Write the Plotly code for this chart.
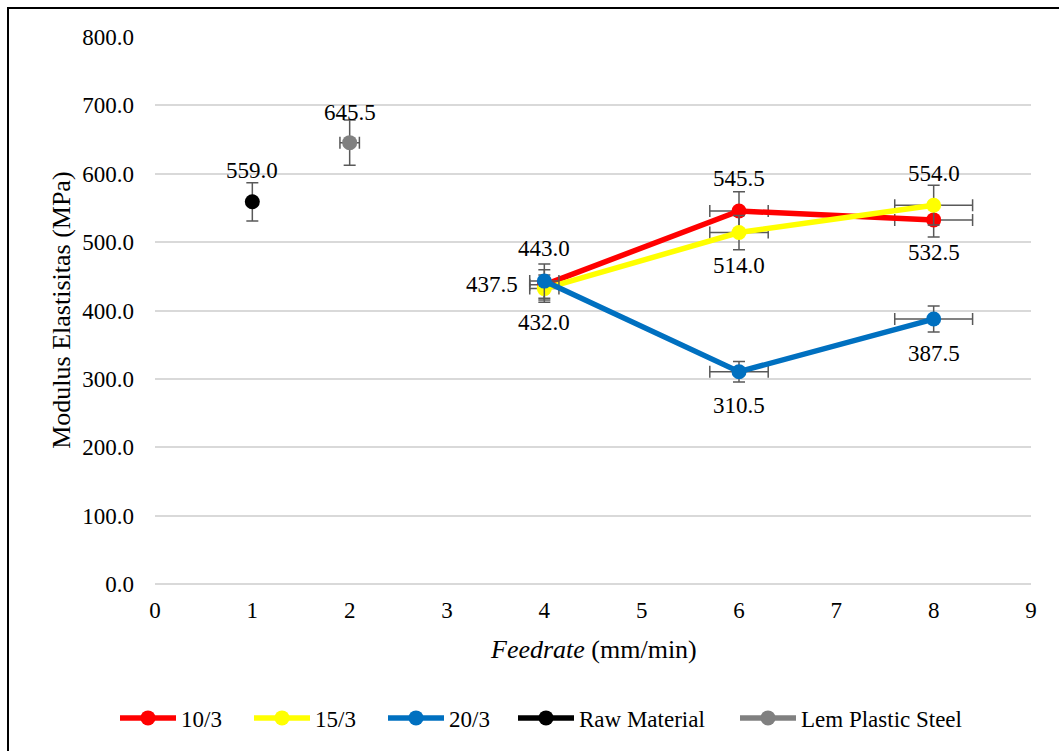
import plotly.graph_objects as go

# Feedrate values (mm/min) and modulus values (MPa) per series
feed_main = [4, 6, 8]
mod_10_3 = [437.5, 545.5, 532.5]
mod_15_3 = [432.0, 514.0, 554.0]
mod_20_3 = [443.0, 310.5, 387.5]
err_y_10_3 = [22, 28, 25]
err_y_15_3 = [20, 25, 29]
err_y_20_3 = [25, 15, 19]
err_x_main = [0.15, 0.3, 0.4]

feed_raw = [1]
mod_raw = [559.0]
err_y_raw = [28]

feed_lem = [2]
mod_lem = [645.5]
err_y_lem = [33]
err_x_lem = [0.1]

# Label offsets in pixels (x shift, y shift) per point
label_shift_10_3 = [(-24, 0), (0, -33), (0, 33)]
label_shift_15_3 = [(0, 34), (0, 33), (0, -32)]
label_shift_20_3 = [(0, -33), (0, 34), (0, 34)]

FONT = "Liberation Serif"
ERR_COLOR = "#595959"
TXT = 23
TITLE = 26

fig = go.Figure()


def add_series(name, xs, ys, color, ey, ex=None, legend="legend"):
    fig.add_trace(go.Scatter(
        x=xs, y=ys, name=name, mode="lines+markers", legend=legend,
        line=dict(color=color, width=5.5),
        marker=dict(color=color, size=15),
        error_y=dict(type="data", array=ey, visible=True,
                     color=ERR_COLOR, thickness=1.5, width=6),
        error_x=(dict(type="data", array=ex, visible=True,
                      color=ERR_COLOR, thickness=1.5, width=6)
                 if ex is not None else None),
        cliponaxis=False,
    ))


add_series("10/3", feed_main, mod_10_3, "#FF0000", err_y_10_3, err_x_main)
add_series("15/3", feed_main, mod_15_3, "#FFFF00", err_y_15_3, err_x_main)
add_series("20/3", feed_main, mod_20_3, "#0070C0", err_y_20_3, err_x_main)
add_series("Raw Material", feed_raw, mod_raw, "#000000", err_y_raw,
           legend="legend2")
add_series("Lem Plastic Steel", feed_lem, mod_lem, "#808080", err_y_lem,
           err_x_lem, legend="legend3")

annotations = []


def add_labels(xs, ys, shifts):
    for x, y, (dx, dy) in zip(xs, ys, shifts):
        annotations.append(dict(
            x=x, y=y, xref="x", yref="y", text=f"{y:.1f}", showarrow=False,
            xshift=dx, yshift=-dy,
            xanchor="right" if dx < 0 else "center",
            font=dict(family=FONT, size=TXT, color="#000000"),
        ))


add_labels(feed_main, mod_10_3, label_shift_10_3)
add_labels(feed_main, mod_15_3, label_shift_15_3)
add_labels(feed_main, mod_20_3, label_shift_20_3)
add_labels(feed_raw, mod_raw, [(0, -31)])
add_labels(feed_lem, mod_lem, [(0, -30)])

# Axis titles
annotations.append(dict(
    x=0.5, y=-0.12, xref="paper", yref="paper", yanchor="middle",
    text="<i>Feedrate</i> (mm/min)", showarrow=False,
    font=dict(family=FONT, size=TITLE, color="#000000"),
))
annotations.append(dict(
    x=-0.107, y=0.5, xref="paper", yref="paper", xanchor="center",
    text="Modulus Elastisitas (MPa)", textangle=-90, showarrow=False,
    font=dict(family=FONT, size=TITLE, color="#000000"),
))

legend_common = dict(
    orientation="h", xref="container", yref="container",
    xanchor="left", y=0.044, yanchor="middle",
    font=dict(family=FONT, size=TXT, color="#000000"),
    itemwidth=56, tracegroupgap=0, bgcolor="rgba(0,0,0,0)",
)

fig.update_layout(
    width=1059, height=751,
    margin=dict(l=155, r=28, t=37, b=167),
    paper_bgcolor="white", plot_bgcolor="white",
    font=dict(family=FONT, size=TXT, color="#000000"),
    showlegend=True,
    legend=dict(legend_common, x=115 / 1059, entrywidth=63,
                entrywidthmode="pixels"),
    legend2=dict(legend_common, x=513 / 1059),
    legend3=dict(legend_common, x=735 / 1059),
    annotations=annotations,
    shapes=[
        # outer chart frame
        dict(type="rect", xref="paper", yref="paper",
             x0=-0.1678, x1=1.5, y0=-1.0, y1=1.053,
             line=dict(color="#000000", width=2), fillcolor="rgba(0,0,0,0)",
             layer="below"),
    ],
)

fig.update_xaxes(
    range=[0, 9], dtick=1, tick0=0, showgrid=False, zeroline=False,
    showline=False, ticks="", ticklabelstandoff=10,
    tickfont=dict(family=FONT, size=TXT, color="#000000"),
)
fig.update_yaxes(
    range=[0, 800], dtick=100, tick0=0, tickformat=".1f",
    showgrid=True, gridcolor="#D9D9D9", gridwidth=1.5,
    zeroline=True, zerolinecolor="#D9D9D9", zerolinewidth=1.5,
    showline=False, ticks="", ticklabelstandoff=20,
    tickfont=dict(family=FONT, size=TXT, color="#000000"),
)

fig.write_html("out.html")
